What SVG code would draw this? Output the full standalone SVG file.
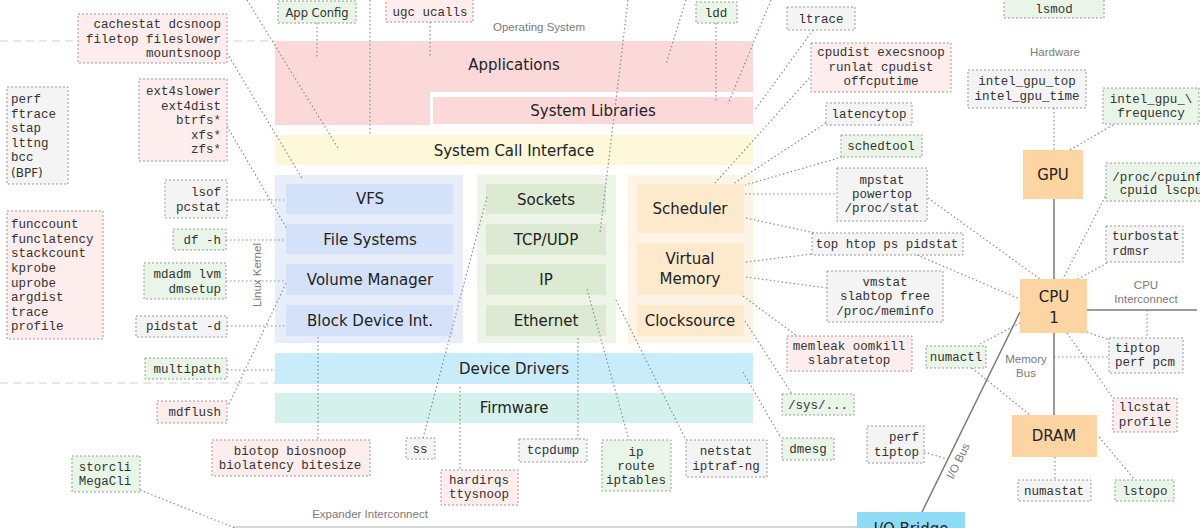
<svg xmlns="http://www.w3.org/2000/svg" width="1200" height="528" viewBox="0 0 1200 528">
<style>
.tb{stroke:#9a9a9a;stroke-width:1;stroke-dasharray:2 2}
.g{fill:#f4f4f4}.gr{fill:#e9f6e7}.pk{fill:#fdeded}
.m{font-family:"Liberation Mono",monospace;font-size:12.5px;fill:#333}
.mc{text-anchor:middle}.me{text-anchor:end}
.L{font-family:"DejaVu Sans",sans-serif;font-size:15px;fill:#222;text-anchor:middle}
.s{font-family:"Liberation Sans",sans-serif;font-size:11.5px;fill:#7a7a7a;text-anchor:middle}
.c{stroke:#8c8c8c;stroke-width:1.2;stroke-dasharray:1.5 2.5;fill:none}
.sl{stroke:#7a7a7a;stroke-width:1.5;fill:none}
.hw{fill:#fdd5a2}
.dash{stroke:#cfcfcf;stroke-width:1;stroke-dasharray:8 5}
</style>
<rect width="1200" height="528" fill="#fff"/>
<g id="boundaries">
<line class="dash" x1="0" y1="41" x2="275" y2="41"/>
<line class="dash" x1="0" y1="383" x2="275" y2="383"/>
<rect x="233" y="526" width="626" height="2" fill="#d6d6d6"/>
<text class="s" x="539" y="31">Operating System</text>
<text class="s" x="1055" y="56">Hardware</text>
<text class="s" x="370" y="518">Expander Interconnect</text>
<text class="s" transform="translate(261,275) rotate(-90)">Linux Kernel</text>
<text class="s" x="1146" y="289">CPU</text>
<text class="s" x="1146" y="303">Interconnect</text>
<text class="s" x="1026" y="363">Memory</text>
<text class="s" x="1026" y="377">Bus</text>
<text class="s" transform="translate(958,461) rotate(-64)" y="4">I/O Bus</text>
</g>
<g id="applications"><path d="M275,41H753V92H430V125H275Z" fill="#fcd9d9"/><text class="L" x="514" y="70">Applications</text></g>
<g id="system-libraries"><rect x="433" y="97" width="320" height="27" fill="#fcd9d9"/><text class="L" x="593" y="116">System Libraries</text></g>
<g id="syscall"><rect x="275" y="135" width="478" height="30" fill="#fcf8d9"/><text class="L" x="514" y="156">System Call Interface</text></g>
<g id="fs-stack">
<rect x="275" y="175" width="188" height="168" fill="#e7eefa"/>
<g id="vfs"><rect x="286" y="184" width="167" height="30" fill="#d4e2f9"/><text class="L" x="370" y="204">VFS</text></g>
<g id="filesystems"><rect x="286" y="224" width="167" height="30" fill="#d4e2f9"/><text class="L" x="370" y="245">File Systems</text></g>
<g id="volume-manager"><rect x="286" y="264" width="167" height="31" fill="#d4e2f9"/><text class="L" x="370" y="285">Volume Manager</text></g>
<g id="block-device"><rect x="286" y="305" width="167" height="31" fill="#d4e2f9"/><text class="L" x="370" y="326">Block Device Int.</text></g>
</g>
<g id="net-stack">
<rect x="477" y="175" width="139" height="168" fill="#eef5e7"/>
<g id="sockets"><rect x="486" y="184" width="120" height="30" fill="#dce9d3"/><text class="L" x="546" y="205">Sockets</text></g>
<g id="tcpudp"><rect x="486" y="224" width="120" height="31" fill="#dce9d3"/><text class="L" x="546" y="245">TCP/UDP</text></g>
<g id="ip"><rect x="486" y="264" width="120" height="31" fill="#dce9d3"/><text class="L" x="546" y="285">IP</text></g>
<g id="ethernet"><rect x="486" y="305" width="120" height="31" fill="#dce9d3"/><text class="L" x="546" y="326">Ethernet</text></g>
</g>
<g id="sched-stack">
<rect x="628" y="175" width="125" height="168" fill="#fdf4e6"/>
<g id="scheduler"><rect x="637" y="184" width="107" height="49" fill="#fde9cb"/><text class="L" x="690" y="214">Scheduler</text></g>
<g id="virtual-memory"><rect x="637" y="243" width="107" height="52" fill="#fde9cb"/><text class="L" x="690" y="264">Virtual</text><text class="L" x="690" y="284">Memory</text></g>
<g id="clocksource"><rect x="637" y="305" width="107" height="31" fill="#fde9cb"/><text class="L" x="690" y="326">Clocksource</text></g>
</g>
<g id="device-drivers"><rect x="275" y="353" width="478" height="31" fill="#c9ecfa"/><text class="L" x="514" y="374">Device Drivers</text></g>
<g id="firmware"><rect x="275" y="393" width="478" height="30" fill="#d5f1ec"/><text class="L" x="514" y="413">Firmware</text></g>

<g id="connectors">
<line class="c" x1="247" y1="0" x2="338" y2="148"/>
<line class="c" x1="227" y1="53" x2="303" y2="180"/>
<line class="c" x1="227" y1="126" x2="287" y2="229"/>
<line class="c" x1="227" y1="200" x2="286" y2="200"/>
<line class="c" x1="226" y1="240" x2="286" y2="240"/>
<line class="c" x1="226" y1="281" x2="286" y2="281"/>
<line class="c" x1="227" y1="326" x2="286" y2="326"/>
<line class="c" x1="227" y1="370" x2="275" y2="370"/>
<line class="c" x1="229" y1="404" x2="287" y2="281"/>
<line class="c" x1="318" y1="337" x2="318" y2="440"/>
<line class="c" x1="317" y1="23" x2="317" y2="57"/>
<line class="c" x1="430" y1="22" x2="430" y2="58"/>
<line class="c" x1="370" y1="0" x2="370" y2="136"/>
<line class="c" x1="628" y1="0" x2="600" y2="233"/>
<line class="c" x1="686" y1="0" x2="666" y2="64"/>
<line class="c" x1="716" y1="23" x2="716" y2="102"/>
<line class="c" x1="771" y1="0" x2="728" y2="104"/>
<line class="c" x1="813" y1="30" x2="755" y2="110"/>
<line class="c" x1="812" y1="75" x2="715" y2="183"/>
<line class="c" x1="826" y1="123" x2="733" y2="184"/>
<line class="c" x1="842" y1="157" x2="745" y2="185"/>
<line class="c" x1="745" y1="194" x2="837" y2="194"/>
<line class="c" x1="746" y1="218" x2="815" y2="233"/>
<line class="c" x1="746" y1="262" x2="812" y2="254"/>
<line class="c" x1="746" y1="277" x2="827" y2="288"/>
<line class="c" x1="743" y1="296" x2="797" y2="336"/>
<line class="c" x1="745" y1="321" x2="792" y2="394"/>
<line class="c" x1="743" y1="372" x2="781" y2="438"/>
<line class="c" x1="917" y1="255" x2="1020" y2="299"/>
<line class="c" x1="928" y1="198" x2="1040" y2="279"/>
<line class="c" x1="1054" y1="108" x2="1054" y2="150"/>
<line class="c" x1="1113" y1="125" x2="1070" y2="150"/>
<line class="c" x1="1107" y1="193" x2="1063" y2="279"/>
<line class="c" x1="1107" y1="263" x2="1078" y2="279"/>
<line class="c" x1="1147" y1="310" x2="1147" y2="338"/>
<line class="c" x1="1087" y1="332" x2="1110" y2="340"/>
<line class="c" x1="1054" y1="357" x2="1109" y2="357"/>
<line class="c" x1="1067" y1="333" x2="1113" y2="398"/>
<line class="c" x1="980" y1="344" x2="1020" y2="323"/>
<line class="c" x1="972" y1="368" x2="1030" y2="415"/>
<line class="c" x1="1055" y1="457" x2="1055" y2="480"/>
<line class="c" x1="1099" y1="437" x2="1135" y2="480"/>
<line class="c" x1="924" y1="452" x2="947" y2="459"/>
<line class="c" x1="423" y1="438" x2="487" y2="197"/>
<line class="c" x1="460" y1="387" x2="460" y2="470"/>
<line class="c" x1="578" y1="338" x2="578" y2="440"/>
<line class="c" x1="587" y1="289" x2="629" y2="440"/>
<line class="c" x1="616" y1="300" x2="686" y2="440"/>
<line class="c" x1="140" y1="490" x2="235" y2="528"/>
<line class="sl" x1="1054" y1="199" x2="1054" y2="279"/>
<line class="sl" x1="1054" y1="333" x2="1054" y2="415"/>
<line class="sl" x1="1087" y1="310" x2="1197" y2="310"/>
<line class="sl" x1="1020" y1="312" x2="922" y2="512"/>
</g>

<g id="gpu"><rect class="hw" x="1023" y="150" width="60" height="49"/><text class="L" x="1053" y="180">GPU</text></g>
<g id="cpu"><rect class="hw" x="1020" y="279" width="67" height="54"/><text class="L" x="1054" y="302">CPU</text><text class="L" x="1054" y="323">1</text></g>
<g id="dram"><rect class="hw" x="1012" y="415" width="85" height="42"/><text class="L" x="1054" y="441">DRAM</text></g>
<g id="io-bridge"><rect x="857" y="512" width="108" height="20" fill="#8edbf5"/><text class="L" x="911" y="534">I/O Bridge</text></g>

<g id="t-cachestat"><rect class="tb pk" x="78" y="14" width="149" height="49"/><text class="m me" x="221" y="28">cachestat dcsnoop</text><text class="m me" x="221" y="42.5">filetop fileslower</text><text class="m me" x="221" y="57">mountsnoop</text></g>
<g id="t-appconfig"><rect class="tb gr" x="278" y="1" width="78" height="22"/><text x="317" y="17" style="font-family:'DejaVu Sans',sans-serif;font-size:11.5px;fill:#333;text-anchor:middle">App Config</text></g>
<g id="t-ugc"><rect class="tb pk" x="386" y="-2" width="87" height="24"/><text class="m mc" x="430" y="16">ugc ucalls</text></g>
<g id="t-ldd"><rect class="tb gr" x="696" y="2" width="41" height="21"/><text class="m mc" x="716" y="17">ldd</text></g>
<g id="t-ltrace"><rect class="tb g" x="787" y="7" width="68" height="23"/><text class="m mc" x="821" y="23">ltrace</text></g>
<g id="t-cpudist"><rect class="tb pk" x="811" y="43" width="140" height="49"/><text class="m mc" x="881" y="56">cpudist execsnoop</text><text class="m mc" x="881" y="71">runlat cpudist</text><text class="m mc" x="881" y="85">offcputime</text></g>
<g id="t-latencytop"><rect class="tb g" x="826" y="103" width="86" height="22"/><text class="m mc" x="869" y="118">latencytop</text></g>
<g id="t-schedtool"><rect class="tb gr" x="841" y="135" width="81" height="22"/><text class="m mc" x="881" y="150">schedtool</text></g>
<g id="t-mpstat"><rect class="tb g" x="837" y="168" width="90" height="53"/><text class="m mc" x="882" y="184">mpstat</text><text class="m mc" x="882" y="198">powertop</text><text class="m mc" x="882" y="212">/proc/stat</text></g>
<g id="t-top"><rect class="tb g" x="812" y="233" width="151" height="22"/><text class="m mc" x="887" y="248">top htop ps pidstat</text></g>
<g id="t-vmstat"><rect class="tb g" x="827" y="271" width="116" height="51"/><text class="m mc" x="885" y="286">vmstat</text><text class="m mc" x="885" y="300">slabtop free</text><text class="m mc" x="885" y="315">/proc/meminfo</text></g>
<g id="t-memleak"><rect class="tb pk" x="787" y="336" width="125" height="35"/><text class="m mc" x="849" y="350">memleak oomkill</text><text class="m mc" x="849" y="364">slabratetop</text></g>
<g id="t-numactl"><rect class="tb gr" x="926" y="346" width="60" height="22"/><text class="m mc" x="956" y="361">numactl</text></g>
<g id="t-sys"><rect class="tb gr" x="782" y="394" width="72" height="21"/><text class="m mc" x="818" y="409">/sys/...</text></g>
<g id="t-dmesg"><rect class="tb gr" x="782" y="438" width="52" height="22"/><text class="m mc" x="808" y="453">dmesg</text></g>
<g id="t-perftiptop"><rect class="tb g" x="867" y="426" width="57" height="37"/><text class="m me" x="919" y="441">perf</text><text class="m me" x="919" y="456">tiptop</text></g>
<g id="t-numastat"><rect class="tb g" x="1018" y="480" width="73" height="21"/><text class="m mc" x="1054" y="495">numastat</text></g>
<g id="t-lstopo"><rect class="tb gr" x="1115" y="480" width="59" height="21"/><text class="m mc" x="1145" y="495">lstopo</text></g>
<g id="t-llcstat"><rect class="tb pk" x="1113" y="398" width="64" height="34"/><text class="m mc" x="1145" y="411">llcstat</text><text class="m mc" x="1145" y="426">profile</text></g>
<g id="t-tiptop"><rect class="tb g" x="1109" y="338" width="74" height="35"/><text class="m" x="1115" y="352">tiptop</text><text class="m" x="1115" y="366">perf pcm</text></g>
<g id="t-turbostat"><rect class="tb g" x="1106" y="226" width="77" height="36"/><text class="m" x="1112" y="240">turbostat</text><text class="m" x="1112" y="255">rdmsr</text></g>
<g id="t-cpuinfo"><rect class="tb gr" x="1106" y="163" width="100" height="38"/><text class="m mc" x="1161" y="181">/proc/cpuinfo</text><text class="m mc" x="1161" y="194">cpuid lscpu</text></g>
<g id="t-gpufreq"><rect class="tb gr" x="1103" y="88" width="96" height="36"/><text class="m mc" x="1151" y="103">intel_gpu_\</text><text class="m mc" x="1151" y="117">frequency</text></g>
<g id="t-gputop"><rect class="tb g" x="968" y="70" width="118" height="38"/><text class="m mc" x="1027" y="85">intel_gpu_top</text><text class="m mc" x="1027" y="100">intel_gpu_time</text></g>
<g id="t-lsmod"><rect class="tb gr" x="1004" y="-20" width="100" height="38"/><text class="m mc" x="1054" y="13">lsmod</text></g>
<g id="t-tracers"><rect class="tb g" x="7" y="87" width="61" height="97"/><text class="m" x="11" y="103">perf</text><text class="m" x="11" y="118">ftrace</text><text class="m" x="11" y="132">stap</text><text class="m" x="11" y="147">lttng</text><text class="m" x="11" y="161">bcc</text><text x="11" y="177" style="font-family:'DejaVu Sans',sans-serif;font-size:12px;fill:#333">(BPF)</text></g>
<g id="t-ext4"><rect class="tb pk" x="139" y="79" width="88" height="82"/><text class="m me" x="221" y="95">ext4slower</text><text class="m me" x="221" y="109.5">ext4dist</text><text class="m me" x="221" y="124">btrfs*</text><text class="m me" x="221" y="138.5">xfs*</text><text class="m me" x="221" y="153">zfs*</text></g>
<g id="t-lsof"><rect class="tb g" x="165" y="180" width="62" height="38"/><text class="m me" x="221" y="196">lsof</text><text class="m me" x="221" y="211">pcstat</text></g>
<g id="t-df"><rect class="tb gr" x="173" y="229" width="53" height="21"/><text class="m me" x="221" y="244">df -h</text></g>
<g id="t-funccount"><rect class="tb pk" x="7" y="211" width="96" height="128"/><text class="m" x="11" y="228">funccount</text><text class="m" x="11" y="243">funclatency</text><text class="m" x="11" y="257">stackcount</text><text class="m" x="11" y="272">kprobe</text><text class="m" x="11" y="287">uprobe</text><text class="m" x="11" y="301">argdist</text><text class="m" x="11" y="316">trace</text><text class="m" x="11" y="330">profile</text></g>
<g id="t-mdadm"><rect class="tb gr" x="144" y="263" width="82" height="36"/><text class="m me" x="221" y="278">mdadm lvm</text><text class="m me" x="221" y="293">dmsetup</text></g>
<g id="t-pidstatd"><rect class="tb g" x="136" y="316" width="91" height="21"/><text class="m me" x="221" y="330">pidstat -d</text></g>
<g id="t-multipath"><rect class="tb gr" x="145" y="358" width="82" height="21"/><text class="m me" x="221" y="373">multipath</text></g>
<g id="t-mdflush"><rect class="tb pk" x="157" y="401" width="70" height="22"/><text class="m me" x="221" y="416">mdflush</text></g>
<g id="t-biotop"><rect class="tb pk" x="212" y="440" width="158" height="36"/><text class="m mc" x="290" y="455">biotop biosnoop</text><text class="m mc" x="290" y="469">biolatency bitesize</text></g>
<g id="t-storcli"><rect class="tb gr" x="72" y="456" width="68" height="36"/><text class="m mc" x="105" y="471">storcli</text><text class="m mc" x="105" y="485">MegaCli</text></g>
<g id="t-ss"><rect class="tb g" x="406" y="438" width="29" height="21"/><text class="m mc" x="420" y="453">ss</text></g>
<g id="t-hardirqs"><rect class="tb pk" x="441" y="470" width="77" height="35"/><text class="m mc" x="479" y="484">hardirqs</text><text class="m mc" x="479" y="498">ttysnoop</text></g>
<g id="t-tcpdump"><rect class="tb g" x="519" y="439" width="68" height="23"/><text class="m mc" x="553" y="454">tcpdump</text></g>
<g id="t-ip"><rect class="tb gr" x="602" y="440" width="69" height="51"/><text class="m mc" x="636" y="456">ip</text><text class="m mc" x="636" y="470">route</text><text class="m mc" x="636" y="484">iptables</text></g>
<g id="t-netstat"><rect class="tb g" x="686" y="440" width="81" height="37"/><text class="m mc" x="726" y="455">netstat</text><text class="m mc" x="726" y="470">iptraf-ng</text></g>
</svg>
